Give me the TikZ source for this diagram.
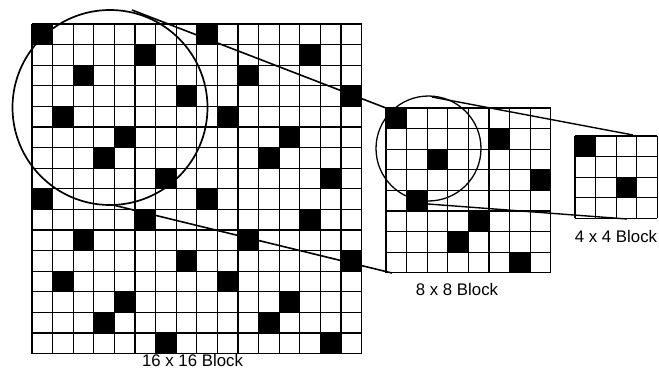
\documentclass[tikz,border=0pt]{standalone}
\usepackage{fontspec}
\setmainfont{Liberation Sans}
\begin{document}
\begin{tikzpicture}[x=1pt,y=-1pt,
  gridline/.style={line width=1.3pt,black},
  ring/.style={line width=1.7pt,black},
  zoomline/.style={line width=1.6pt,black},
  blocklabel/.style={font=\fontsize{16.8}{17}\selectfont,anchor=base,inner sep=0pt}]
\useasboundingbox (0,0) rectangle (659,369);
\fill[white] (0,0) rectangle (659,369);
\def\cs{20.6}
% ---- 16 x 16 block
\foreach \r/\c in {0/0,1/5,2/2,3/7,4/1,5/4,6/3,7/6} {
  \foreach \dr in {0,8} {
    \foreach \dc in {0,8} {
      \fill[black] (32+\c*\cs+\dc*\cs, 24+\r*\cs+\dr*\cs) rectangle ++(\cs,\cs);
    }
  }
}
\foreach \i in {0,...,16} {
  \draw[gridline] (32+\i*\cs,24) -- (32+\i*\cs,24+16*\cs);
  \draw[gridline] (32,24+\i*\cs) -- (32+16*\cs,24+\i*\cs);
}
% ---- 8 x 8 block
\foreach \r/\c in {0/0,1/5,2/2,3/7,4/1,5/4,6/3,7/6} {
  \fill[black] (386+\c*\cs, 108+\r*\cs) rectangle ++(\cs,\cs);
}
\foreach \i in {0,...,8} {
  \draw[gridline] (386+\i*\cs,108) -- (386+\i*\cs,108+8*\cs);
  \draw[gridline] (386,108+\i*\cs) -- (386+8*\cs,108+\i*\cs);
}
% ---- 4 x 4 block
\foreach \r/\c in {0/0,2/2} {
  \fill[black] (575+\c*\cs, 136+\r*\cs) rectangle ++(\cs,\cs);
}
\foreach \i in {0,...,4} {
  \draw[gridline] (575+\i*\cs,136) -- (575+\i*\cs,136+4*\cs);
  \draw[gridline] (575,136+\i*\cs) -- (575+4*\cs,136+\i*\cs);
}
% ---- circles
\node[circle,draw,ring,minimum size=195pt,inner sep=0pt] (bigring) at (110,107.5) {};
\node[circle,draw,ring,line width=1.3pt,minimum size=105pt,inner sep=0pt] (smallring) at (428.5,148.5) {};
% ---- connector ends
\coordinate (bu) at (132,10);
\coordinate (bl) at (113,205);
\coordinate (mu) at (386,108);
\coordinate (ml) at (392,273);
\coordinate (su) at (432,97);
\coordinate (sl) at (428,204);
\coordinate (fu) at (633,135);
\coordinate (fl) at (627,219);
\draw[zoomline] (bu) -- (mu);
\draw[zoomline] (bl) -- (ml);
\draw[zoomline,line width=1.4pt] (su) -- (fu);
\draw[zoomline,line width=1.4pt] (sl) -- (fl);
% ---- labels
\node[blocklabel] (lab16) at (192.5,366.5) {16 x 16 Block};
\node[blocklabel] (lab8) at (457,295) {8 x 8 Block};
\node[blocklabel] (lab4) at (616,242) {4 x 4 Block};
\end{tikzpicture}
\end{document}
